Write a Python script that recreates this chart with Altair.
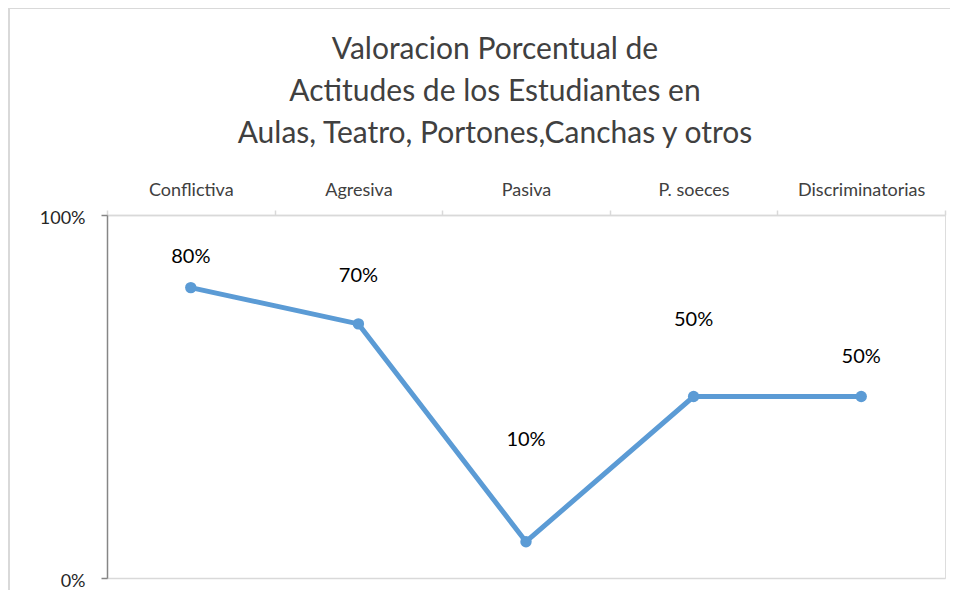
import altair as alt
import pandas as pd

categories = ["Conflictiva", "Agresiva", "Pasiva", "P. soeces", "Discriminatorias"]
values = [0.80, 0.70, 0.10, 0.50, 0.50]
label_text = ["80%", "70%", "10%", "50%", "50%"]
# vertical anchor of each data label (data units), as placed in the original
label_anchor = [0.884, 0.832, 0.380, 0.711, 0.609]
y_ticks = [0, 1]

df = pd.DataFrame({
    "cat": categories,
    "val": values,
    "lbl": label_text,
    "ly": label_anchor,
})

FONT = "Lato"

x_enc = alt.X(
    "cat:N",
    sort=None,
    bandPosition=0.5,
    scale=alt.Scale(type="band", paddingInner=0, paddingOuter=0),
    axis=alt.Axis(
        orient="top",
        title=None,
        labelAngle=0,
        tickBand="extent",
        domainColor="#d9d9d9",
        domainWidth=1.5,
        tickColor="#d9d9d9",
        tickWidth=1.5,
        tickSize=5,
        labelPadding=11,
        labelFont=FONT,
        labelFontSize=18,
        labelColor="#404040",
        grid=False,
    ),
)

y_scale = alt.Scale(domain=[0, 1])

line = alt.Chart(df).mark_line(color="#5b9bd5", strokeWidth=5).encode(
    x=x_enc,
    y=alt.Y(
        "val:Q",
        scale=y_scale,
        axis=alt.Axis(
            values=y_ticks,
            format="%",
            title=None,
            domainColor="#868686",
            domainWidth=1.5,
            tickColor="#868686",
            tickWidth=1.5,
            tickSize=6,
            labelPadding=16,
            labelOffset=3,
            labelFont=FONT,
            labelFontSize=18,
            labelColor="#262626",
            grid=True,
            gridColor="#d9d9d9",
            gridWidth=1.5,
        ),
    ),
)

points = alt.Chart(df).mark_point(
    filled=True, color="#5b9bd5", size=130, opacity=1
).encode(x=alt.X("cat:N", sort=None, bandPosition=0.5), y=alt.Y("val:Q", scale=y_scale))

labels = alt.Chart(df).mark_text(
    font=FONT, fontSize=20, color="#000000", align="center", baseline="middle"
).encode(
    x=alt.X("cat:N", sort=None, bandPosition=0.5),
    y=alt.Y("ly:Q", scale=y_scale),
    text="lbl:N",
)

frame = alt.Chart(pd.DataFrame({"a": [0]})).mark_rect(
    fill=None, stroke="#d9d9d9", strokeWidth=2
).encode(
    x=alt.value(-98), x2=alt.value(880), y=alt.value(-207), y2=alt.value(400)
)

chart = alt.layer(frame, line, points, labels).properties(
    width=838,
    height=363,
    padding={"left": 99, "top": 207, "right": 5, "bottom": 12},
    autosize=alt.AutoSizeParams(type="none"),
    title=alt.TitleParams(
        text=["Valoracion Porcentual de", "Actitudes de los Estudiantes en",
              "Aulas, Teatro, Portones,Canchas y otros"],
        anchor="middle",
        frame="group",
        dx=-31,
        offset=-142,
        font=FONT,
        fontSize=30,
        fontWeight="normal",
        color="#404040",
        lineHeight=42,
    ),
).configure_view(stroke=None).configure(background="white")

chart.save("out.html", embed_options={"renderer": "svg", "actions": False})
